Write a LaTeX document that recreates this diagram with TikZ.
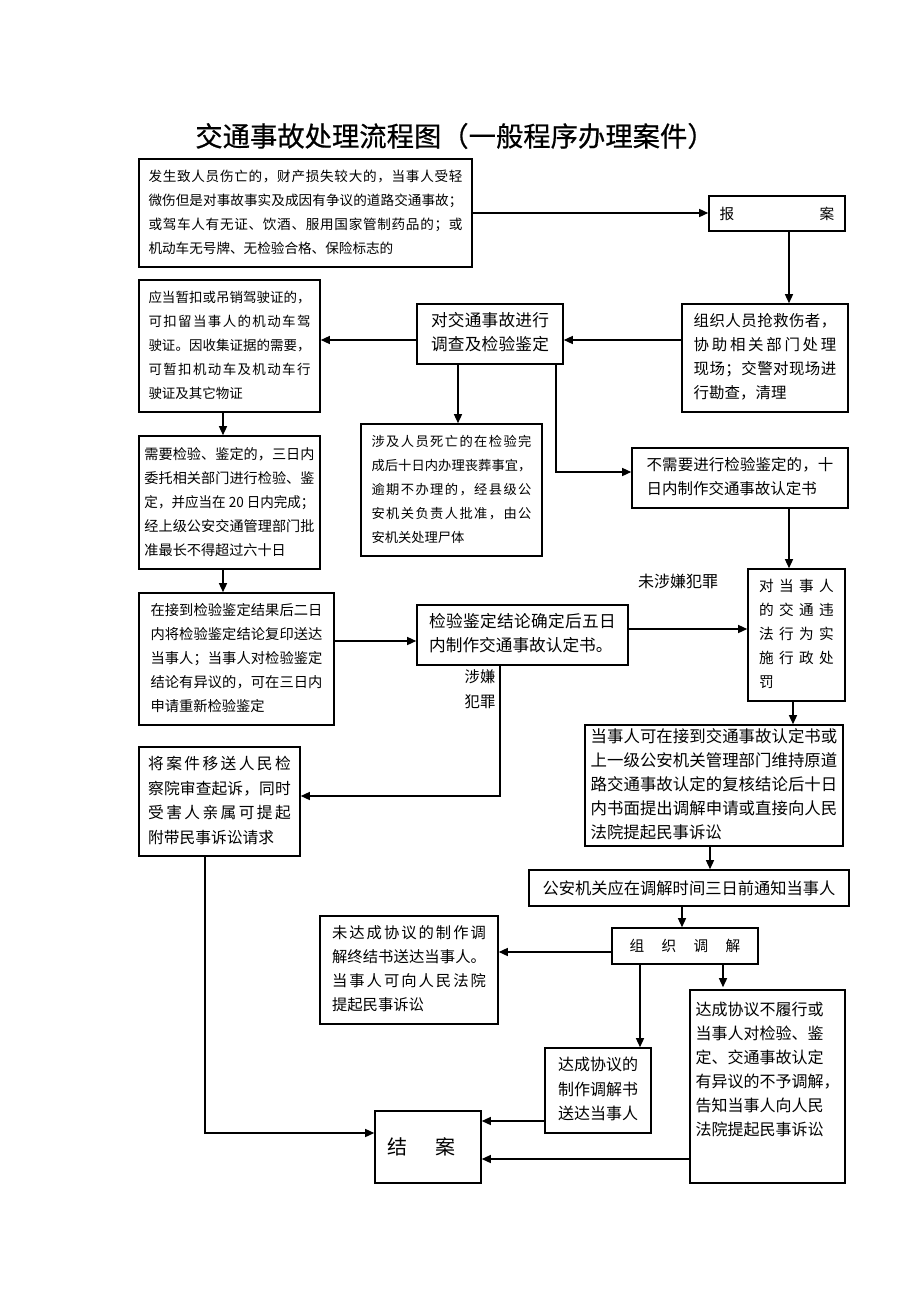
\documentclass[tikz,border=0pt]{standalone}
\usepackage{graphicx}
\usepackage{fontspec}
\setmainfont{Noto Sans CJK SC}
\newfontfamily\titlefont[FakeBold=0.6]{Noto Sans CJK SC}
\usetikzlibrary{arrows.meta}
\newcommand{\fs}[2]{\fontsize{#1}{#2}\selectfont}
\def\jlA#1{#1\jlB}
\def\jlB#1{\ifx\relax#1\else\hfil#1\expandafter\jlB\fi}
\newcommand\jl[2]{\makebox[#1][s]{\jlA#2\relax}}
\newcommand\tl[1]{\begin{tabular}{@{}l@{}}#1\end{tabular}}
\newcommand\bx[7]{\node[box, minimum width={(#4-#2)*0.75pt}, minimum height={(#5-#3)*0.75pt}, font=#6] (#1) at ({(#2+#4)/2},{(#3+#5)/2}) {#7};}
\begin{document}
\begin{tikzpicture}[x=0.75pt,y=-0.75pt,
  box/.style={draw, line width=1.15pt, inner sep=0pt},
  arr/.style={line width=1.1pt, -{Triangle[length=6.8pt,width=6pt]}},
  lbl/.style={inner sep=0pt}]
\useasboundingbox (0,0) rectangle (920,1302);
% title
\node[inner sep=0pt, font=\titlefont\fs{20.5pt}{24pt}] (title) at (455,136) {交通事故处理流程图（一般程序办理案件）};
% boxes
\bx{b1}{139}{159}{472}{267}{\fs{10.2pt}{18pt}}{\tl{\jl{235.5pt}{发生致人员伤亡的，财产损失较大的，当事人受轻}\\\jl{235.5pt}{微伤但是对事故事实及成因有争议的道路交通事故；}\\\jl{235.5pt}{或驾车人有无证、饮酒、服用国家管制药品的；或}\\机动车无号牌、无检验合格、保险标志的}}
\bx{baoan}{709}{196}{845}{231}{\fs{11pt}{14pt}}{报\hspace{64pt}案}
\bx{zuzhi}{682}{304}{848}{412}{\fs{11.6pt}{18pt}}{\tl{\jl{107pt}{组织人员抢救伤者，}\\\jl{107pt}{协助相关部门处理}\\\jl{107pt}{现场；交警对现场进}\\行勘查，清理}}
\bx{duijiao}{417}{304}{563}{364}{\fs{12.5pt}{18pt}}{\tl{\jl{88.5pt}{对交通事故进行}\\\jl{88.5pt}{调查及检验鉴定}}}
\bx{b2}{139}{280}{320}{412}{\fs{10.1pt}{18pt}}{\tl{\jl{121.5pt}{应当暂扣或吊销驾驶证的，}\\\jl{121.5pt}{可扣留当事人的机动车驾}\\\jl{121.5pt}{驶证。因收集证据的需要，}\\\jl{121.5pt}{可暂扣机动车及机动车行}\\驶证及其它物证}}
\bx{b3}{139}{436}{320}{569}{\fs{10.6pt}{18pt}}{\tl{\jl{127.5pt}{需要检验、鉴定的，三日内}\\\jl{127.5pt}{委托相关部门进行检验、鉴}\\\resizebox{127.5pt}{\height}{定，并应当在 20 日内完成；}\\\jl{127.5pt}{经上级公安交通管理部门批}\\准最长不得超过六十日}}
\bx{sheji}{361}{424}{542}{556}{\fs{9.95pt}{18pt}}{\tl{\jl{120pt}{涉及人员死亡的在检验完}\\\jl{120pt}{成后十日内办理丧葬事宜，}\\\jl{120pt}{逾期不办理的，经县级公}\\\jl{120pt}{安机关负责人批准，由公}\\安机关处理尸体}}
\bx{buxu}{632}{448}{848}{508}{\fs{11.6pt}{18pt}}{\tl{\jl{140pt}{不需要进行检验鉴定的，十}\\日内制作交通事故认定书}}
\bx{duidang}{748}{569}{845}{701}{\fs{11pt}{18pt}}{\tl{\jl{56pt}{对当事人}\\\jl{56pt}{的交通违}\\\jl{56pt}{法行为实}\\\jl{56pt}{施行政处}\\罚}}
\bx{b4}{139}{593}{334}{725}{\fs{10.7pt}{18pt}}{\tl{\jl{129pt}{在接到检验鉴定结果后二日}\\\jl{129pt}{内将检验鉴定结论复印送达}\\\jl{129pt}{当事人；当事人对检验鉴定}\\\jl{129pt}{结论有异议的，可在三日内}\\申请重新检验鉴定}}
\bx{jyjd}{417}{605}{628}{665}{\fs{12.5pt}{18pt}}{\tl{\jl{140pt}{检验鉴定结论确定后五日}\\内制作交通事故认定书。}}
\bx{jiang}{139}{747}{300}{856}{\fs{11.8pt}{18.6pt}}{\tl{\jl{107pt}{将案件移送人民检}\\\jl{107pt}{察院审查起诉，同时}\\\jl{107pt}{受害人亲属可提起}\\附带民事诉讼请求}}
\bx{dangshi}{585}{725}{843}{846}{\fs{12.3pt}{18pt}}{\tl{\jl{185pt}{当事人可在接到交通事故认定书或}\\\jl{185pt}{上一级公安机关管理部门维持原道}\\\jl{185pt}{路交通事故认定的复核结论后十日}\\\jl{185pt}{内书面提出调解申请或直接向人民}\\法院提起民事诉讼}}
\bx{gongan}{529}{870}{849}{906}{\fs{12.2pt}{14pt}}{公安机关应在调解时间三日前通知当事人}
\bx{zzt}{612}{928}{758}{964}{\fs{11pt}{14pt}}{组\hspace{13pt}织\hspace{13pt}调\hspace{13pt}解}
\bx{weida}{320}{916}{498}{1024}{\fs{11.5pt}{18pt}}{\tl{\jl{115.5pt}{未达成协议的制作调}\\\jl{115.5pt}{解终结书送达当事人。}\\\jl{115.5pt}{当事人可向人民法院}\\提起民事诉讼}}
\bx{dacheng}{545}{1048}{651}{1133}{\fs{12pt}{18.3pt}}{\tl{达成协议的\\制作调解书\\送达当事人}}
\bx{budx}{690}{990}{845}{1183}{\fs{12pt}{18pt}}{}
\node[lbl, anchor=north, font=\fs{12pt}{18pt}] (budxt) at ([yshift=-6.75pt]budx.north) {\tl{达成协议不履行或\\当事人对检验、鉴\\定、交通事故认定\\有异议的不予调解，\\告知当事人向人民\\法院提起民事诉讼}};
\bx{jiean}{375}{1111}{481}{1183}{\fs{15pt}{18pt}}{\hspace{-10.5pt}结\hspace{21pt}案}
% labels
\node[lbl, font=\fs{12pt}{14pt}] (lab1) at (678,581) {未涉嫌犯罪};
\node[lbl, font=\fs{11.5pt}{18.5pt}] (lab2) at (480,690) {\tl{涉嫌\\犯罪}};
% helper coordinates
\coordinate (X789) at (789,0);
\coordinate (X793) at (793,0);
\coordinate (X223) at (223,0);
\coordinate (X458) at (458,0);
\coordinate (X556) at (556,0);
\coordinate (X500) at (500,0);
\coordinate (X710) at (710,0);
\coordinate (X682) at (682,0);
\coordinate (X640) at (640,0);
\coordinate (X723) at (723,0);
\coordinate (X205) at (205,0);
\coordinate (Y340) at (0,340);
\coordinate (Y472) at (0,472);
\coordinate (Y641) at (0,641);
\coordinate (Y629) at (0,629);
\coordinate (Y796) at (0,796);
\coordinate (Y952) at (0,952);
\coordinate (Y1121) at (0,1121);
\coordinate (Y1133) at (0,1133);
\coordinate (Y1159) at (0,1159);
% connectors
\draw[arr] (b1.east) -- (b1.east -| baoan.west);
\draw[arr] (baoan.south -| X789) -- (zuzhi.north -| X789);
\draw[arr] (zuzhi.west |- Y340) -- (duijiao.east |- Y340);
\draw[arr] (duijiao.west |- Y340) -- (b2.east |- Y340);
\draw[arr] (b2.south -| X223) -- (b3.north -| X223);
\draw[arr] (duijiao.south -| X458) -- (sheji.north -| X458);
\draw[arr] (duijiao.south -| X556) -- (X556 |- Y472) -- (buxu.west |- Y472);
\draw[arr] (buxu.south -| X789) -- (duidang.north -| X789);
\draw[arr] (b3.south -| X223) -- (b4.north -| X223);
\draw[arr] (b4.east |- Y641) -- (jyjd.west |- Y641);
\draw[arr] (jyjd.east |- Y629) -- (duidang.west |- Y629);
\draw[arr] (jyjd.south -| X500) -- (X500 |- Y796) -- (jiang.east |- Y796);
\draw[arr] (duidang.south -| X793) -- (dangshi.north -| X793);
\draw[arr] (dangshi.south -| X710) -- (gongan.north -| X710);
\draw[arr] (gongan.south -| X682) -- (zzt.north -| X682);
\draw[arr] (zzt.west |- Y952) -- (weida.east |- Y952);
\draw[arr] (zzt.south -| X640) -- (dacheng.north -| X640);
\draw[arr] (zzt.south -| X723) -- ([yshift=1.5pt]budx.north -| X723);
\draw[arr] (jiang.south -| X205) -- (X205 |- Y1133) -- (jiean.west |- Y1133);
\draw[arr] (dacheng.west |- Y1121) -- (jiean.east |- Y1121);
\draw[arr] (budx.west |- Y1159) -- (jiean.east |- Y1159);
\end{tikzpicture}
\end{document}
